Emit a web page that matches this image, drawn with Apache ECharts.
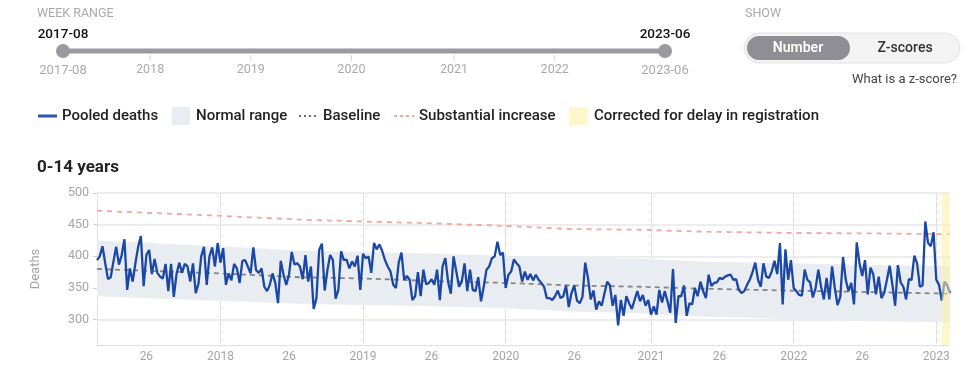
<!DOCTYPE html>
<html>
<head>
<meta charset="utf-8">
<script src="https://cdn.jsdelivr.net/npm/echarts@6/dist/echarts.min.js"></script>
<style>
html,body{margin:0;padding:0;background:#fff;}
#chart{width:968px;height:380px;}
</style>
</head>
<body>
<div id="chart"></div>
<script>
// ---------- DATA ----------
// ISO weeks shown: 2017-W08 .. 2023-W06
const startYear = 2017, startWeek = 8, endYear = 2023, endWeek = 6;
const isoWeeksInYear = {2017: 52, 2018: 52, 2019: 52, 2020: 53, 2021: 52, 2022: 52, 2023: 52};

// Pooled deaths, one value per week (312 weeks)
const pooledDeaths = [
  // 2017-W08 .. 2017-W52
  394, 400, 416, 389, 364, 367, 392, 415, 387, 402,
  427, 347, 381, 360, 389, 415, 432, 353, 402, 410,
  372, 396, 374, 368, 365, 388, 345, 388, 336, 372,
  390, 374, 388, 384, 360, 389, 342, 357, 400, 415,
  355, 400, 414, 384, 421,
  // 2018
  390, 413, 355, 373, 362, 388, 381, 358, 393, 394,
  384, 373, 414, 378, 374, 381, 352, 345, 355, 373,
  358, 326, 393, 371, 355, 371, 407, 387, 389, 384,
  364, 402, 360, 384, 317, 334, 410, 420, 346, 378,
  402, 394, 333, 347, 408, 394, 395, 381, 392, 384,
  401, 347,
  // 2019
  404, 397, 400, 374, 421, 411, 419, 408, 394, 384,
  376, 355, 350, 390, 406, 363, 369, 363, 331, 337,
  375, 337, 379, 356, 358, 364, 355, 379, 331, 384,
  397, 360, 341, 400, 376, 352, 360, 389, 345, 379,
  347, 345, 367, 329, 352, 379, 384, 397, 400, 423,
  402, 406,
  // 2020 (53 weeks)
  350, 371, 376, 395, 389, 384, 360, 376, 363, 372,
  362, 371, 363, 358, 352, 334, 334, 331, 337, 346,
  334, 337, 354, 320, 342, 354, 330, 326, 336, 390,
  366, 332, 346, 316, 329, 322, 341, 360, 354, 322,
  339, 291, 331, 306, 337, 326, 317, 331, 345, 329,
  339, 322, 331,
  // 2021
  308, 321, 308, 347, 327, 345, 329, 311, 380, 295,
  337, 337, 354, 306, 326, 324, 350, 337, 360, 345,
  334, 371, 353, 358, 359, 366, 364, 368, 370, 371,
  363, 364, 347, 342, 345, 355, 363, 375, 390, 363,
  352, 389, 368, 366, 376, 393, 372, 421, 324, 411,
  363, 394,
  // 2022 + 2023-W01..W06
  350, 345, 339, 338, 379, 363, 359, 335, 350, 379,
  352, 332, 366, 332, 384, 350, 323, 336, 399, 363,
  345, 358, 324, 422, 389, 369, 394, 340, 382, 372,
  340, 368, 334, 342, 363, 385, 355, 322, 386, 359,
  352, 332, 364, 363, 401, 389, 352, 354, 455, 421,
  416, 438, 363, 355, 330, 360, 354, 342
];

// Baseline / normal range / substantial increase, read at these weeks
const rangeWeeks = ['2017-W08', '2018-W01', '2018-W30', '2019-W01', '2019-W27', '2020-W01',
                    '2020-W26', '2020-W50', '2021-W19', '2021-W51', '2022-W35', '2023-W06'];
const baseline            = [380, 373, 367, 365, 361, 358, 354, 352, 349, 346, 343, 341];
const rangeUpper          = [425, 416, 409, 407, 404, 401, 398, 396, 392, 389, 386, 385];
const rangeLower          = [337, 330, 325, 323, 321, 318, 313, 310, 305, 301, 297, 296];
const substantialIncrease = [472, 464, 458, 455, 452, 448, 443, 442, 439, 437, 436, 435];

const correctedFrom = '2023-W03';
const correctedTo = '2023-W06';

const yTicks = [300, 350, 400, 450, 500];
const sliderYears = ['2018', '2019', '2020', '2021', '2022'];
const sliderStart = '2017-08', sliderEnd = '2023-06';

// ---------- BUILD ----------
const weeks = [];
for (let y = startYear; y <= endYear; y++) {
  const from = y === startYear ? startWeek : 1;
  const to = y === endYear ? endWeek : isoWeeksInYear[y];
  for (let w = from; w <= to; w++) weeks.push(y + '-W' + String(w).padStart(2, '0'));
}
const pairs = arr => rangeWeeks.map((w, i) => [w, arr[i]]);

const FONT = 'Roboto, "Noto Sans", sans-serif';
const graphics = [];
function txt(x, y, text, font, fill, align) {
  graphics.push({type: 'text', x: x, y: y, silent: true,
    style: {text: text, font: font, fill: fill, textAlign: align || 'left', textVerticalAlign: 'middle'}});
}
// Week range widget
txt(37, 14, 'WEEK RANGE', '400 12.5px ' + FONT, '#a9a9ad');
const sx0 = 63, sx1 = 665;
graphics.push({type: 'line', silent: true, shape: {x1: sx0, y1: 51, x2: sx1, y2: 51},
  style: {stroke: '#9a9a9f', lineWidth: 5, lineCap: 'round'}});
sliderYears.forEach(yr => {
  const idx = weeks.indexOf(yr + '-W01');
  const x = sx0 + idx / (weeks.length - 1) * (sx1 - sx0);
  graphics.push({type: 'line', silent: true, shape: {x1: x, y1: 55, x2: x, y2: 61},
    style: {stroke: '#d6d6d9', lineWidth: 1}});
  txt(x, 70, yr, '400 12.5px ' + FONT, '#aaaaae', 'center');
});
graphics.push({type: 'circle', silent: true, shape: {cx: sx0, cy: 51, r: 7}, style: {fill: '#9a9a9f'}});
graphics.push({type: 'circle', silent: true, shape: {cx: sx1, cy: 51, r: 7}, style: {fill: '#9a9a9f'}});
txt(sx0, 35, sliderStart, '500 13.5px ' + FONT, '#111', 'center');
txt(sx1, 35, sliderEnd, '500 13.5px ' + FONT, '#111', 'center');
txt(sx0, 71, sliderStart, '400 13px ' + FONT, '#aaaaae', 'center');
txt(sx1, 71, sliderEnd, '400 13px ' + FONT, '#aaaaae', 'center');

// Show toggle
txt(745, 14, 'SHOW', '400 12.5px ' + FONT, '#a9a9ad');
graphics.push({type: 'rect', silent: true, shape: {x: 744, y: 33, width: 216, height: 30, r: 15},
  style: {fill: '#f3f3f4', stroke: '#e2e2e4', lineWidth: 1}});
graphics.push({type: 'rect', silent: true, shape: {x: 747, y: 36, width: 103, height: 24, r: 12},
  style: {fill: '#8e8e93'}});
txt(798, 48.5, 'Number', '600 14px ' + FONT, '#ffffff', 'center');
txt(905, 48.5, 'Z-scores', '500 14px ' + FONT, '#333', 'center');
txt(957, 80, 'What is a z-score?', '400 13px ' + FONT, '#444', 'right');

// Legend
const LF = '500 15px ' + FONT;
graphics.push({type: 'line', silent: true, shape: {x1: 38, y1: 116, x2: 57, y2: 116},
  style: {stroke: '#2a55b3', lineWidth: 3}});
txt(62, 116, 'Pooled deaths', LF, '#222');
graphics.push({type: 'rect', silent: true, shape: {x: 172, y: 107, width: 18, height: 18},
  style: {fill: '#e9edf1'}});
txt(196, 116, 'Normal range', LF, '#222');
graphics.push({type: 'line', silent: true, shape: {x1: 299, y1: 116, x2: 318, y2: 116},
  style: {stroke: '#6d6d6d', lineWidth: 2, lineDash: [2, 3]}});
txt(323, 116, 'Baseline', LF, '#222');
graphics.push({type: 'line', silent: true, shape: {x1: 394, y1: 116, x2: 414, y2: 116},
  style: {stroke: '#f5a59d', lineWidth: 2, lineDash: [3, 3]}});
txt(419, 116, 'Substantial increase', LF, '#222');
graphics.push({type: 'rect', silent: true, shape: {x: 569, y: 107, width: 19, height: 18},
  style: {fill: '#fff7cc'}});
txt(594, 116, 'Corrected for delay in registration', LF, '#222');

// Panel title
txt(37, 168, '0-14 years', '700 17px ' + FONT, '#222');

const chart = echarts.init(document.getElementById('chart'), null, {renderer: 'canvas'});
chart.setOption({
  animation: false,
  textStyle: {fontFamily: FONT},
  graphic: graphics,
  grid: {left: 97, right: 18, top: 193, bottom: 35, containLabel: false, outerBoundsMode: 'none'},
  xAxis: {
    type: 'category', data: weeks, boundaryGap: false,
    axisLine: {show: true, lineStyle: {color: '#d9d9d9', type: 'dotted', width: 1}},
    axisTick: {show: false},
    axisLabel: {
      interval: (i, v) => v.endsWith('-W01') || v.endsWith('-W26'),
      formatter: v => v.endsWith('-W01') ? v.slice(0, 4) : v.slice(6),
      color: '#a5a5a9', fontSize: 12, margin: 6
    },
    splitLine: {show: true, interval: (i, v) => v.endsWith('-W01'),
      lineStyle: {color: '#cdcdd0', type: 'dotted', width: 1}}
  },
  yAxis: {
    type: 'value', min: 260, max: 500,
    name: 'Deaths', nameLocation: 'middle', nameGap: 55,
    nameTextStyle: {color: '#a5a5a9', fontSize: 13},
    axisLine: {show: true, lineStyle: {color: '#dcdcdc', type: 'dotted'}},
    axisTick: {show: true, length: 4, customValues: yTicks, lineStyle: {color: '#cfcfcf'}},
    axisLabel: {customValues: yTicks, color: '#a5a5a9', fontSize: 12.5, margin: 8},
    splitLine: {show: true, lineStyle: {color: '#e7e7e9', width: 1.5}}
  },
  series: [
    {type: 'line', name: 'lower', data: pairs(rangeLower), stack: 'band', symbol: 'none',
      lineStyle: {opacity: 0}, silent: true, z: 1},
    {type: 'line', name: 'Normal range', data: rangeWeeks.map((w, i) => [w, rangeUpper[i] - rangeLower[i]]),
      stack: 'band', symbol: 'none', lineStyle: {opacity: 0},
      areaStyle: {color: '#e9edf1', opacity: 1}, silent: true, z: 1},
    {type: 'line', name: 'Substantial increase', data: pairs(substantialIncrease), symbol: 'none',
      lineStyle: {color: '#f7a49a', width: 1.8, type: [5, 5]}, silent: true, z: 2},
    {type: 'line', name: 'Baseline', data: pairs(baseline), symbol: 'none',
      lineStyle: {color: '#858585', width: 1.8, type: [5, 4]}, silent: true, z: 2},
    {type: 'line', name: 'Pooled deaths', data: pooledDeaths, symbol: 'none',
      lineStyle: {color: '#1b47a6', width: 2.3}, z: 3,
      markArea: {silent: true, z: 6, itemStyle: {color: 'rgba(255, 238, 165, 0.55)'},
        data: [[{xAxis: correctedFrom}, {xAxis: correctedTo}]]}}
  ]
});
</script>
</body>
</html>
